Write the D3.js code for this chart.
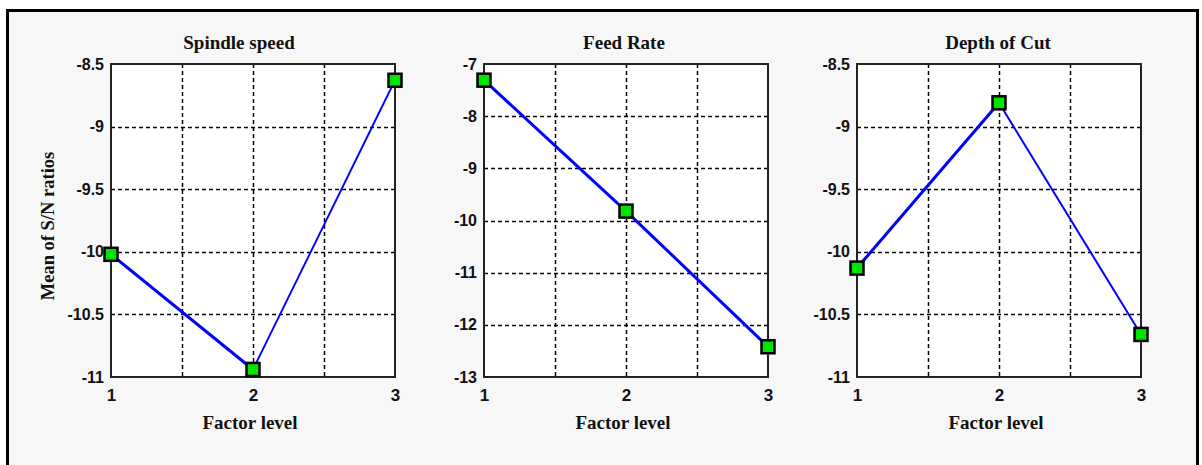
<!DOCTYPE html>
<html>
<head>
<meta charset="utf-8">
<script src="https://cdn.jsdelivr.net/npm/d3@7"></script>
<style>
  body { margin: 0; background: #fff; }
  svg { display: block; }
</style>
</head>
<body>
<svg width="1202" height="465"></svg>
<script>
var levels = [1, 2, 3];
var titles = ['Spindle speed', 'Feed Rate', 'Depth of Cut'];
var spindleSpeed = [-10.02, -10.94, -8.63];
var feedRate = [-7.31, -9.82, -12.42];
var depthOfCut = [-10.13, -8.81, -10.66];
var yTicksHalf = [-11, -10.5, -10, -9.5, -9, -8.5];
var yTicksFeed = [-13, -12, -11, -10, -9, -8, -7];
var xGrid = [1.5, 2, 2.5];

var svg = d3.select('svg');

var plotTop = 64, plotH = 313, plotW = 284;
var panels = [
  { x: 111, title: titles[0], values: spindleSpeed, ticks: yTicksHalf, titleShift: -14, segW: [3, 1.9] },
  { x: 484, title: titles[1], values: feedRate, ticks: yTicksFeed, titleShift: -2, segW: [3, 3] },
  { x: 857, title: titles[2], values: depthOfCut, ticks: yTicksHalf, titleShift: -1, segW: [3, 2] }
];

// outer frame
svg.append('rect')
  .attr('x', 7.5).attr('y', 10.5)
  .attr('width', 1190).attr('height', 470)
  .attr('fill', '#f7f7f7')
  .attr('stroke', '#000').attr('stroke-width', 3);

panels.forEach(function(p, i) {
  var g = svg.append('g').attr('transform', 'translate(' + p.x + ',' + plotTop + ')');

  var x = d3.scaleLinear().domain([1, 3]).range([0, plotW]);
  var y = d3.scaleLinear().domain(d3.extent(p.ticks)).range([plotH, 0]);

  g.append('rect')
    .attr('width', plotW).attr('height', plotH)
    .attr('fill', '#fff');

  // grid
  g.selectAll('.hgrid').data(p.ticks.slice(1, -1)).enter()
    .append('line')
    .attr('x1', 0).attr('x2', plotW)
    .attr('y1', function(d) { return Math.round(y(d)) + 0.5; })
    .attr('y2', function(d) { return Math.round(y(d)) + 0.5; })
    .attr('stroke', '#000').attr('stroke-width', 1.5)
    .attr('stroke-dasharray', '4,3');

  g.selectAll('.vgrid').data(xGrid).enter()
    .append('line')
    .attr('y1', 0).attr('y2', plotH)
    .attr('x1', function(d) { return Math.round(x(d)) + 0.5; })
    .attr('x2', function(d) { return Math.round(x(d)) + 0.5; })
    .attr('stroke', '#000').attr('stroke-width', 1.5)
    .attr('stroke-dasharray', '4,3');

  g.append('rect')
    .attr('width', plotW).attr('height', plotH)
    .attr('fill', 'none')
    .attr('stroke', '#222').attr('stroke-width', 2);

  // axes
  var yAxis = d3.axisLeft(y).tickValues(p.ticks).tickSize(0).tickPadding(7)
    .tickFormat(function(d) { return String(d); });
  var ya = g.append('g').call(yAxis);
  ya.select('.domain').remove();
  ya.selectAll('text')
    .attr('font-family', 'Liberation Sans, Arial, sans-serif')
    .attr('font-weight', 'bold').attr('font-size', 16).attr('fill', '#111');

  var xAxis = d3.axisBottom(x).tickValues(levels).tickSize(0).tickPadding(12)
    .tickFormat(function(d) { return String(d); });
  var xa = g.append('g').attr('transform', 'translate(0,' + plotH + ')').call(xAxis);
  xa.select('.domain').remove();
  xa.selectAll('text')
    .attr('font-family', 'Liberation Sans, Arial, sans-serif')
    .attr('font-weight', 'bold').attr('font-size', 17).attr('fill', '#111');

  // title
  g.append('text')
    .attr('x', plotW / 2 + p.titleShift).attr('y', 49 - plotTop)
    .attr('text-anchor', 'middle')
    .attr('font-family', 'Liberation Serif, Times New Roman, serif')
    .attr('font-weight', 'bold').attr('font-size', 19).attr('fill', '#111')
    .text(p.title);

  g.append('text')
    .attr('x', plotW / 2 - 3).attr('y', 429 - plotTop)
    .attr('text-anchor', 'middle')
    .attr('font-family', 'Liberation Serif, Times New Roman, serif')
    .attr('font-weight', 'bold').attr('font-size', 19).attr('fill', '#111')
    .text('Factor level');

  // line segments + markers
  var line = d3.line()
    .x(function(d) { return x(d.lv); })
    .y(function(d) { return y(d.v); });

  var pts = p.values.map(function(v, j) { return { lv: levels[j], v: v }; });
  var segs = d3.pairs(pts);

  g.selectAll('.seg').data(segs).enter()
    .append('path')
    .attr('d', function(d) { return line(d); })
    .attr('fill', 'none')
    .attr('stroke', '#0000ff')
    .attr('stroke-width', function(d, j) { return p.segW[j]; });

  g.selectAll('.pt').data(pts).enter()
    .append('rect')
    .attr('x', function(d) { return x(d.lv) - 6.5; })
    .attr('y', function(d) { return y(d.v) - 6.5; })
    .attr('width', 13).attr('height', 13)
    .attr('fill', '#00e600')
    .attr('stroke', '#000').attr('stroke-width', 2.5);
});

svg.append('text')
  .attr('transform', 'translate(54,226) rotate(-90)')
  .attr('text-anchor', 'middle')
  .attr('font-family', 'Liberation Serif, Times New Roman, serif')
  .attr('font-weight', 'bold').attr('font-size', 18.5).attr('fill', '#111')
  .text('Mean of S/N ratios');
</script>
</body>
</html>
